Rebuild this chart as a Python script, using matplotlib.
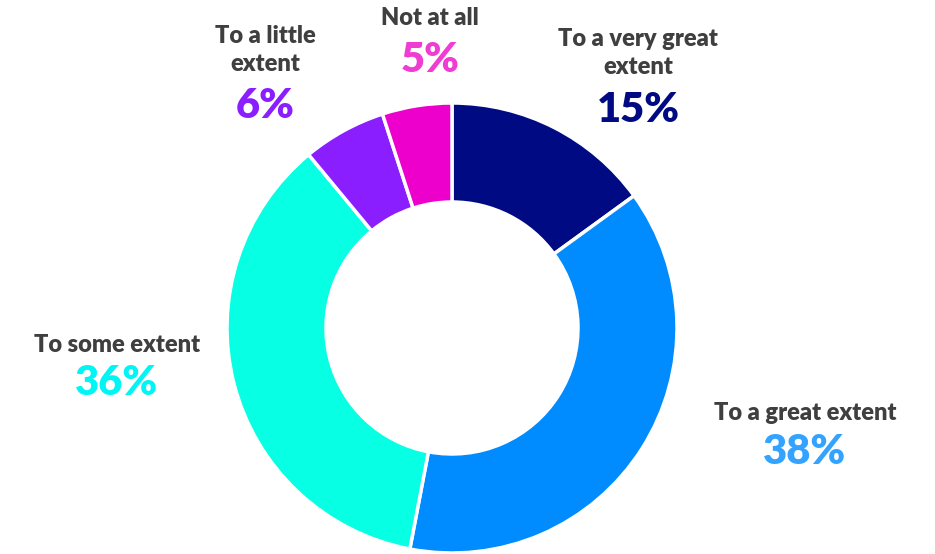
import matplotlib
matplotlib.use("Agg")
from matplotlib import pyplot as plt

categories = ["To a very great\nextent", "To a great extent", "To some extent",
              "To a little\nextent", "Not at all"]
values = [15, 38, 36, 6, 5]
slice_colors = ["#000A82", "#008CFF", "#07FFE3", "#8A1EFF", "#EE00CC"]
label_colors = ["#000A82", "#33A3FF", "#00F5F5", "#8A1EFF", "#F03CD2"]

W, H = 935, 554
fig = plt.figure(figsize=(W / 100, H / 100), dpi=100)
plt.rcParams["font.family"] = ["Lato", "DejaVu Sans"]

cx, cy, r = 452, 328, 225
ax = fig.add_axes([(cx - r) / W, (H - cy - r) / H, 2 * r / W, 2 * r / H])
ax.pie(values, colors=slice_colors, startangle=90, counterclock=False, radius=1,
       wedgeprops=dict(width=0.44, edgecolor="white", linewidth=2.5))
ax.set_xlim(-1, 1)
ax.set_ylim(-1, 1)
ax.set_aspect("equal")
ax.axis("off")

# label anchor points in pixels: (x, y of category text centre, y of percent centre)
spots = [(638, 53, 110), (805, 413, 452), (117, 345, 383), (265, 50, 106), (430, 18, 60)]
for cat, v, col, (x, yc, yp) in zip(categories, values, label_colors, spots):
    fig.text(x / W, 1 - yc / H, cat, ha="center", va="center", fontsize=17,
             fontweight="heavy", color="#3F3F3F", linespacing=1.3)
    fig.text(x / W, 1 - yp / H, f"{v}%", ha="center", va="center", fontsize=30,
             fontweight="heavy", color=col)

fig.savefig("out.png", dpi=100)
